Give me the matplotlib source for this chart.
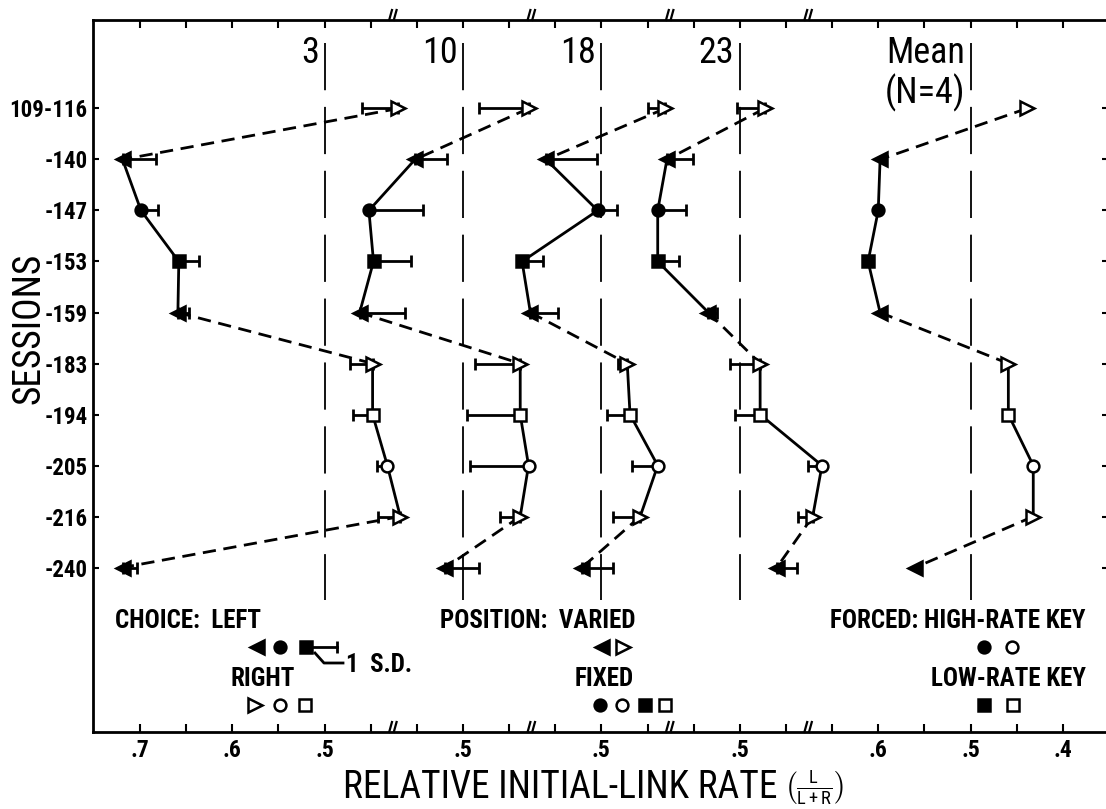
import matplotlib
matplotlib.use('Agg')
import matplotlib.pyplot as plt
from matplotlib import font_manager

# pick a narrow sans when one is installed (original uses a condensed face)
_names = {f.name for f in font_manager.fontManager.ttflist}
FONT = 'DejaVu Sans'
for cand in ['Liberation Sans Narrow', 'Roboto Condensed', 'Open Sans Condensed', 'Liberation Sans']:
    if cand in _names:
        FONT = cand
        break
plt.rcParams['font.family'] = [FONT, 'DejaVu Sans']
plt.rcParams['mathtext.fontset'] = 'custom'
plt.rcParams['mathtext.rm'] = FONT
plt.rcParams['mathtext.it'] = FONT
plt.rcParams['lines.scale_dashes'] = False

# ---- data -------------------------------------------------------------
SESSIONS = ['109-116', '-140', '-147', '-153', '-159', '-183', '-194', '-205', '-216', '-240']
PANELS = ['3', '10', '18', '23', 'Mean\n(N=4)']

# relative initial-link rate L/(L+R), one value per session block
RATE_3 = [0.420, 0.719, 0.699, 0.658, 0.659, 0.448, 0.448, 0.432, 0.418, 0.719]
RATE_10 = [0.429, 0.552, 0.602, 0.597, 0.612, 0.438, 0.438, 0.429, 0.438, 0.519]
RATE_18 = [0.431, 0.560, 0.504, 0.586, 0.577, 0.472, 0.469, 0.439, 0.458, 0.521]
RATE_23 = [0.473, 0.579, 0.589, 0.589, 0.534, 0.478, 0.478, 0.411, 0.421, 0.460]
RATE_MEAN = [0.439, 0.598, 0.600, 0.611, 0.598, 0.459, 0.459, 0.432, 0.432, 0.560]

# one standard deviation
SD_3 = [0.039, 0.036, 0.018, 0.022, 0.012, 0.024, 0.021, 0.011, 0.024, 0.016]
SD_10 = [0.054, 0.035, 0.059, 0.041, 0.049, 0.049, 0.058, 0.063, 0.022, 0.036]
SD_18 = [0.018, 0.055, 0.021, 0.023, 0.030, 0.010, 0.025, 0.028, 0.029, 0.034]
SD_23 = [0.030, 0.028, 0.031, 0.023, 0.009, 0.033, 0.027, 0.015, 0.016, 0.022]

RATES = [RATE_3, RATE_10, RATE_18, RATE_23, RATE_MEAN]
SDS = [SD_3, SD_10, SD_18, SD_23, None]

# condition of each session block
ROW_MARKER = ['>', '<', 'o', 's', '<', '>', 's', 'o', '>', '<']
ROW_FILLED = [False, True, True, True, True, False, False, False, False, True]
SOLID_RUNS = [[1, 2, 3, 4], [5, 6, 7, 8]]
DASHED_LINKS = [(0, 1), (4, 5), (8, 9)]

# labelled ticks of each panel
TICK_VALUES = [[0.7, 0.6, 0.5], [0.5], [0.5], [0.5], [0.6, 0.5, 0.4]]

# ---- layout -----------------------------------------------------------
W, H = 1106, 809
PANEL_OFFSETS = [0.0, 0.15, 0.30, 0.45, 0.70]   # position of each panel's .5 on the broken axis
BREAKS = [off + 0.075 for off in PANEL_OFFSETS[:-1]]
REF_TOP, REF_BOTTOM = -1.28, 9.64
MS = {'o': 8.5, 's': 9.0, '<': 10.5, '>': 10.0}
LW = 2.0


def to_axis(off, v):
    return off + 0.5 - v


fig = plt.figure(figsize=(W / 100, H / 100), dpi=100)
ax = fig.add_axes([93 / W, 1 - 732 / H, (1108 - 93) / W, (732 - 20) / H])
ax.set_xlim(-0.251, 0.849)
ax.set_ylim(12.225, -1.735)

for s in ax.spines.values():
    s.set_linewidth(2)

# x ticks: regular grid, labels only at panel values
ticks = [round(-0.2 + 0.05 * k, 3) for k in range(21)]
lab = {}
for off, vals in zip(PANEL_OFFSETS, TICK_VALUES):
    for v in vals:
        lab[round(to_axis(off, v), 3)] = ('%.1f' % v).lstrip('0')
ax.set_xticks(ticks)
ax.set_xticklabels([lab.get(t, '') for t in ticks])
ax.set_yticks(range(len(SESSIONS)))
ax.set_yticklabels(SESSIONS)
ax.tick_params(axis='x', direction='in', top=True, length=6, width=1.5, labelsize=17, pad=5)
ax.tick_params(axis='y', direction='in', right=True, length=4.5, width=1.5, labelsize=16.5, pad=4)
for t in ax.get_xticklabels() + ax.get_yticklabels():
    t.set_fontweight('bold')

# axis break marks
xt = ax.get_xaxis_transform()
for b in BREAKS:
    for dx in (-0.0035, 0.0015):
        for y0 in (0.0, 1.0):
            ax.plot([b + dx - 0.0015, b + dx + 0.0015], [y0, y0 + 0.014], color='k', lw=1.6,
                    transform=xt, clip_on=False)

# indifference lines and panel titles
for off, name in zip(PANEL_OFFSETS, PANELS):
    ax.plot([off, off], [REF_TOP, REF_BOTTOM], color='k', lw=1.3, ls=(0, (34, 12)))
    for i, line in enumerate(name.split('\n')):
        ax.text(off - 0.006, -1.09 + 0.78 * i, line, fontsize=26, ha='right', va='center')

rows = list(range(len(SESSIONS)))
for off, rates, sds in zip(PANEL_OFFSETS, RATES, SDS):
    u = [to_axis(off, v) for v in rates]
    for a, b in DASHED_LINKS:
        ax.plot([u[a], u[b]], [a, b], color='k', lw=LW, ls=(0, (9.5, 5.5)), zorder=2)
    for run in SOLID_RUNS:
        ax.plot([u[i] for i in run], run, color='k', lw=LW, zorder=2)
    if sds is not None:
        lo = [0 if f else sd for sd, f in zip(sds, ROW_FILLED)]
        hi = [sd if f else 0 for sd, f in zip(sds, ROW_FILLED)]
        ax.errorbar(u, rows, xerr=[lo, hi], fmt='none', ecolor='k', elinewidth=LW,
                    capsize=4.3, capthick=LW, zorder=3)
    for x, y, m, f in zip(u, rows, ROW_MARKER, ROW_FILLED):
        ax.plot(x, y, marker=m, ms=MS[m], mfc='k' if f else 'w', mec='k', mew=1.8,
                ls='none', zorder=5)

# ---- key --------------------------------------------------------------
def ax_xy(px, py):
    return (px - 93) / 1015, (732 - py) / 712


def key_marker(px, py, m, filled):
    x, y = ax_xy(px, py)
    ax.plot(x, y, marker=m, ms=MS[m], mfc='k' if filled else 'w', mec='k', mew=1.8,
            ls='none', transform=ax.transAxes, clip_on=False, zorder=5)


def key_text(px, py, s, ha='left'):
    x, y = ax_xy(px, py)
    ax.text(x, y, s, fontsize=18, fontweight='bold', ha=ha, va='center', transform=ax.transAxes)


key_text(115, 621, 'CHOICE:  LEFT')
key_text(230, 679, 'RIGHT')
for px, m, f in [(257, '<', True), (280, 'o', True), (306, 's', True)]:
    key_marker(px, 647, m, f)
for px, m, f in [(255, '>', False), (280, 'o', False), (305, 's', False)]:
    key_marker(px, 705, m, f)
x0, y0 = ax_xy(306, 647)
x1, _ = ax_xy(337, 647)
ax.plot([x0, x1], [y0, y0], color='k', lw=LW, transform=ax.transAxes)
ax.plot([x1], [y0], marker='|', ms=9, mew=LW, color='k', transform=ax.transAxes)
lx, ly = zip(*[ax_xy(315, 653), ax_xy(324, 663), ax_xy(343, 663)])
ax.plot(lx, ly, color='k', lw=LW, transform=ax.transAxes)
key_text(346, 665, '1  S.D.')

key_text(440, 621, 'POSITION:  VARIED')
key_marker(602, 647, '<', True)
key_marker(623, 647, '>', False)
key_text(575, 679, 'FIXED')
for px, m, f in [(600, 'o', True), (622, 'o', False), (645, 's', True), (665, 's', False)]:
    key_marker(px, 705, m, f)

key_text(1086, 621, 'FORCED: HIGH-RATE KEY', ha='right')
key_marker(984, 647, 'o', True)
key_marker(1012, 647, 'o', False)
key_text(1086, 679, 'LOW-RATE KEY', ha='right')
key_marker(984, 705, 's', True)
key_marker(1013, 705, 's', False)

# ---- axis titles ------------------------------------------------------
fig.text(29 / W, 1 - 328 / H, 'SESSIONS', rotation=90, fontsize=27, ha='center', va='center')
xl = fig.text(343 / W, 1 - 798 / H, 'RELATIVE INITIAL-LINK RATE', fontsize=27, ha='left', va='baseline')
ax.annotate(r'$\left(\frac{L}{L+R}\right)$', xy=(1, 0.5), xycoords=xl, xytext=(5, 0),
            textcoords='offset points', fontsize=19, ha='left', va='center', annotation_clip=False)

fig.savefig('out.png', dpi=100)
